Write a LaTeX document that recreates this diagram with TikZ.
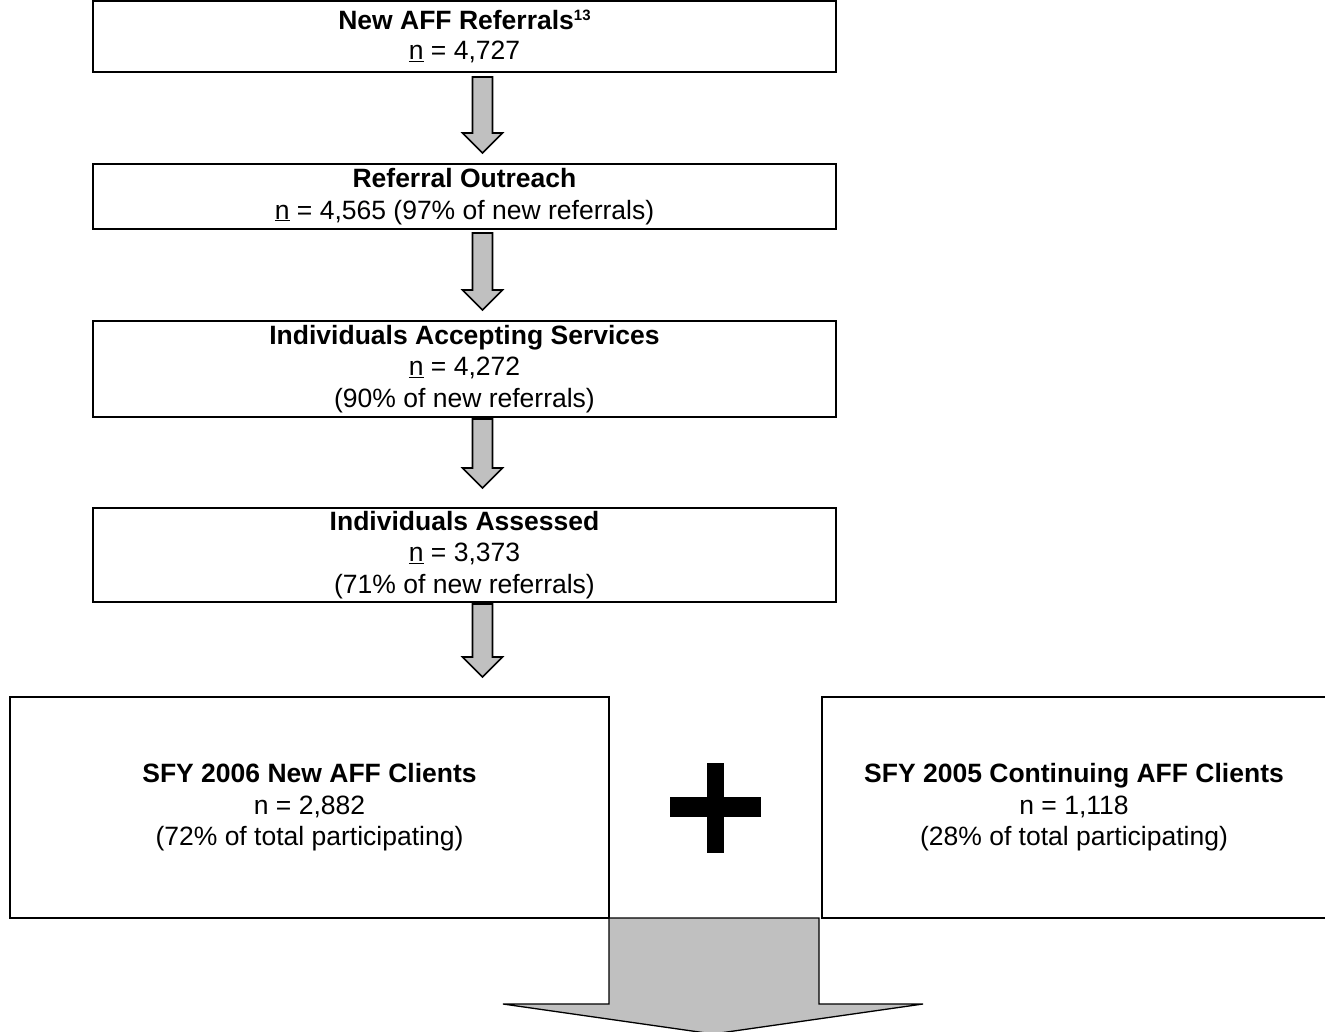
\documentclass[tikz,border=0pt]{standalone}
\usepackage{fontspec}
\setmainfont{Liberation Sans}
\usetikzlibrary{calc}
\definecolor{arrowgray}{RGB}{192,192,192}
\newcommand\flowarrow[4]{%
  \draw[smallarrow] let \p1=($(#1.south)+(18,#3)$), \p2=($(#2.north)+(18,-#4)$) in
    (\x1-10pt,\y1) -- (\x1+10pt,\y1) -- (\x1+10pt,\y2+20pt) -- (\x1+20pt,\y2+20pt)
    -- (\x1,\y2) -- (\x1-20pt,\y2+20pt) -- (\x1-10pt,\y2+20pt) -- cycle;}
\newcommand\smallsup[1]{\raisebox{9pt}{\fontsize{15}{15}\selectfont\bfseries #1}}
\begin{document}
\begin{tikzpicture}[x=1pt,y=-1pt,
  box/.style={draw=black, line width=2pt, inner sep=0pt, outer sep=0pt, align=center,
    font=\fontsize{26.5}{31.5}\selectfont},
  smallarrow/.style={draw=black, line width=1.6pt, fill=arrowgray, line join=miter},
  bigarrow/.style={draw=black, line width=1.3pt, fill=arrowgray, line join=miter}]
\useasboundingbox (0,0) rectangle (1325,1032);

\node[box, minimum width=743pt, minimum height=71pt] (b1) at (464.5,36.5)
  {\textbf{New AFF Referrals}\smallsup{13}\\[-1pt]\underline{n} = 4,727};
\node[box, minimum width=743pt, minimum height=65pt] (b2) at (464.5,196.5)
  {\textbf{Referral Outreach}\\\underline{n} = 4,565 (97\% of new referrals)};
\node[box, minimum width=743pt, minimum height=96pt] (b3) at (464.5,369)
  {\textbf{Individuals Accepting Services}\\\underline{n} = 4,272\\(90\% of new referrals)};
\node[box, minimum width=743pt, minimum height=94pt] (b4) at (464.5,555)
  {\textbf{Individuals Assessed}\\\underline{n} = 3,373\\(71\% of new referrals)};
\node[box, minimum width=599pt, minimum height=221pt] (b5) at (309.5,807.5)
  {\textbf{SFY 2006 New AFF Clients}\\n = 2,882\\(72\% of total participating)};
\node[box, minimum width=504pt, minimum height=221pt] (b6) at (1074,807.5)
  {\textbf{SFY 2005 Continuing AFF Clients}\\n = 1,118\\(28\% of total participating)};

\flowarrow{b1}{b2}{5}{11}
\flowarrow{b2}{b3}{4}{11}
\flowarrow{b3}{b4}{2}{20}
\flowarrow{b4}{b5}{2}{20}

% plus sign
\fill[black] (670,797.3) rectangle (761,816.7);
\fill[black] (707.3,763.3) rectangle (724,853.3);

% big arrow
\coordinate (bt) at (713,1034);
\draw[bigarrow] (b5.south east) -- ($(b5.south east)+(210,0)$) -- ($(b5.south east)+(210,86)$)
  -- ($(b5.south east)+(314,86)$) -- (bt) -- ($(b5.south east)+(-106,86)$)
  -- ($(b5.south east)+(0,86)$) -- cycle;
\end{tikzpicture}
\end{document}
